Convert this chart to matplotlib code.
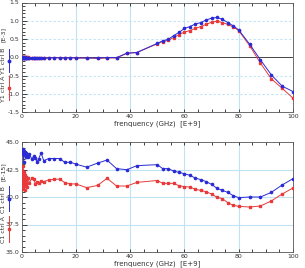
import matplotlib
matplotlib.use("Agg")
import matplotlib.pyplot as plt
from matplotlib.lines import Line2D
from matplotlib.ticker import MultipleLocator

freq = [0.2, 0.4, 0.6, 0.8, 1.0, 1.2, 1.4, 1.6, 1.8, 2.0,
        2.3, 2.9, 3.8, 4.5, 5.1, 5.7, 6.3, 7.2, 8.2,
        10, 12, 14, 16, 18, 20,
        24, 28, 31.5, 35, 38.8, 42.5,
        50, 52, 54, 56, 58, 60, 62, 64, 66, 68, 70, 72, 74, 76, 78, 80,
        84, 88, 92, 96, 100]

y1_ctrl_b = [-0.01, -0.02, 0.0, -0.02, -0.01, -0.02, 0.0, -0.01, -0.02, -0.01,
             -0.01, -0.02, -0.02, -0.03, -0.02, -0.03, -0.02, -0.02, -0.03,
             -0.02, -0.01, -0.02, -0.02, -0.01, -0.02,
             -0.02, -0.02, -0.01, -0.01, 0.11, 0.13,
             0.38, 0.45, 0.49, 0.59, 0.68, 0.79, 0.84, 0.91, 0.95, 1.02, 1.07, 1.09, 1.04, 0.95, 0.86, 0.75,
             0.36, -0.07, -0.48, -0.79, -0.94]
y1_ctrl_a = [0.0, -0.01, 0.0, 0.01, 0.0, -0.01, 0.0, 0.0, -0.01, 0.0,
             0.0, -0.01, -0.01, -0.02, -0.01, -0.02, -0.01, -0.01, -0.02,
             -0.01, -0.01, -0.01, -0.02, -0.01, -0.02,
             -0.02, -0.03, -0.02, -0.02, 0.11, 0.13,
             0.37, 0.43, 0.46, 0.54, 0.62, 0.69, 0.73, 0.79, 0.84, 0.90, 0.96, 0.99, 0.95, 0.90, 0.83, 0.73,
             0.32, -0.16, -0.59, -0.85, -1.12]

c1_ctrl_b = [44.3, 43.9, 44.4, 43.2, 44.2, 43.8, 44.1, 43.6, 44.0, 43.7,
             43.6, 43.9, 43.45, 43.7, 43.54, 43.2, 43.45, 44.0, 43.3,
             43.5, 43.5, 43.5, 43.14, 43.17, 42.99,
             42.71, 43.08, 43.36, 42.58, 42.48, 42.85,
             42.94, 42.58, 42.58, 42.36, 42.24, 42.12, 41.97, 41.73, 41.58, 41.4, 41.15, 40.79, 40.6, 40.42, 40.12, 39.94,
             40.0, 40.0, 40.42, 41.09, 41.67]
c1_ctrl_a = [42.5, 40.7, 42.8, 41.0, 42.3, 40.6, 42.0, 41.2, 41.8, 40.9,
             41.7, 41.3, 41.7, 41.62, 41.19, 41.4, 41.25, 41.46, 41.4,
             41.55, 41.62, 41.62, 41.31, 41.19, 41.19,
             40.85, 41.05, 41.7, 41.0, 41.0, 41.33,
             41.5, 41.24, 41.24, 41.24, 41.03, 40.94, 40.9, 40.7, 40.6, 40.48, 40.27, 39.97, 39.85, 39.48, 39.24, 39.15,
             39.09, 39.18, 39.64, 40.27, 40.82]

xticks = [0, 20, 40, 60, 80, 100]
top_yticks = [-1.5, -1.0, -0.5, 0.0, 0.5, 1.0, 1.5]
bot_yticks = [35.0, 37.5, 40.0, 42.5, 45.0]
xlabel = "frenquency (GHz)  [E+9]"

BLUE = "#2b2bd6"
RED = "#e83a3a"
GRID = "#bfe3f5"
TXT = "#333333"

fig = plt.figure(figsize=(3.05, 2.68), dpi=100)
W, H = 305, 268

def px_ax(l, t, r, b):
    return fig.add_axes([l / W, 1 - b / H, (r - l) / W, (b - t) / H])

ax1 = px_ax(21.5, 2.5, 293, 112)
ax2 = px_ax(21.5, 142, 293, 252)

def style(ax, ylim, yticks, minor_y, fmt):
    ax.set_xlim(0, 100)
    ax.set_ylim(*ylim)
    ax.set_xticks(xticks)
    ax.set_xticklabels([str(v) for v in xticks])
    ax.set_yticks(yticks)
    ax.set_yticklabels([fmt % v for v in yticks])
    ax.xaxis.set_minor_locator(MultipleLocator(5))
    ax.yaxis.set_minor_locator(MultipleLocator(minor_y))
    ax.tick_params(axis="both", which="both", direction="in", colors="#222222",
                   labelcolor=TXT, labelsize=4.5, width=0.6, pad=1.5)
    ax.tick_params(axis="x", which="both", top=True, bottom=True, length=2.2)
    ax.tick_params(axis="y", which="major", left=True, right=False, length=3.5)
    ax.tick_params(axis="y", which="minor", left=True, right=False, length=2)
    for v in [20, 40, 60, 80]:
        ax.axvline(v, color=GRID, lw=0.8, zorder=0)
    for s in ax.spines.values():
        s.set_color("#555555")
        s.set_linewidth(0.6)
    ax.set_xlabel(xlabel, fontsize=5, color=TXT, labelpad=1)

style(ax1, (-1.5, 1.5), top_yticks, 0.1, "%.1f")
style(ax2, (35, 45), bot_yticks, 0.5, "%.1f")

for v in [-1.0, -0.5, 0.5, 1.0]:
    ax1.axhline(v, color=GRID, lw=0.8, ls=(0, (2, 2)), zorder=0)
ax1.axhline(0, color="#444444", lw=0.7, zorder=1)
for v in [37.5, 40.0, 42.5]:
    ax2.axhline(v, color=GRID, lw=0.8, zorder=0)

for ax, ya, yb in [(ax1, y1_ctrl_a, y1_ctrl_b), (ax2, c1_ctrl_a, c1_ctrl_b)]:
    ax.plot(freq, ya, color=RED, lw=0.7, marker="s", ms=1.8, mec=RED, mfc=RED, zorder=3)
    ax.plot(freq, yb, color=BLUE, lw=0.7, marker="o", ms=1.6, mec=BLUE, mfc=BLUE, zorder=4)

def ylegend(parts, tx, gx):
    # parts: (text, ycenter_px, color or None, (y0, y1) px)
    for text, yc, color, span in parts:
        fig.text(tx / W, 1 - yc / H, text, rotation=90, ha="center", va="center",
                 fontsize=4.5, color=TXT)
        if color is not None:
            y0, y1 = span
            fig.add_artist(Line2D([gx / W, gx / W], [1 - y0 / H, 1 - y1 / H],
                                  color=color, lw=0.7))
            fig.add_artist(Line2D([gx / W], [1 - (y0 + y1) / 2 / H], color=color,
                                  marker="o" if color == BLUE else "s", ms=1.8, lw=0))

ylegend([("Y1 ctrl A", 89, RED, (76, 100)),
         ("Y1 ctrl B", 61, BLUE, (49, 72)),
         ("[E-3]", 35, None, None)], 3.5, 8.5)
ylegend([("C1 ctrl A", 230, RED, (216, 242)),
         ("C1 ctrl B", 200, BLUE, (186, 211)),
         ("[E-15]", 172, None, None)], 3.5, 8.5)

fig.savefig("out.png", dpi=100)
